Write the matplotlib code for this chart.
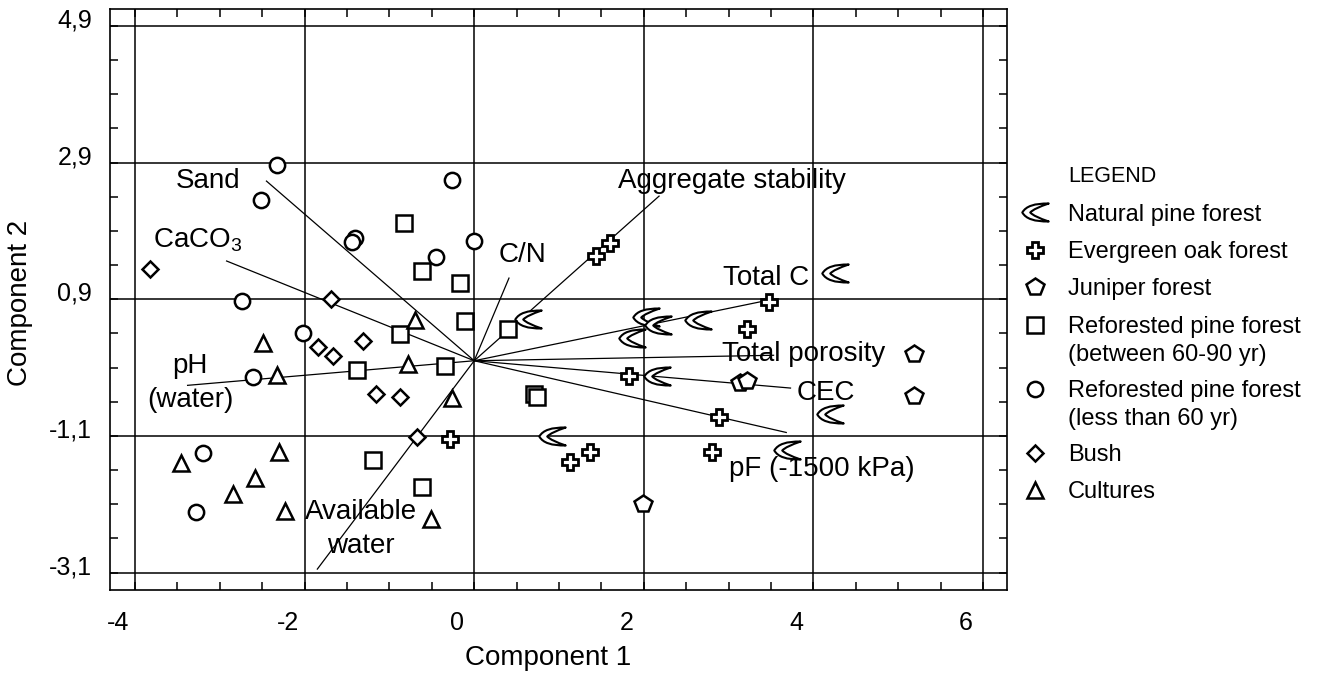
import numpy as np
import matplotlib
matplotlib.use('Agg')
import matplotlib.pyplot as plt
from matplotlib.path import Path
from matplotlib.transforms import ScaledTranslation

plt.rcParams['font.family'] = ['Liberation Sans', 'DejaVu Sans']
plt.rcParams['mathtext.fontset'] = 'custom'
plt.rcParams['mathtext.rm'] = 'Liberation Sans'
plt.rcParams['mathtext.it'] = 'Liberation Sans'
plt.rcParams['mathtext.default'] = 'rm'

# ---------------- data ----------------
natural_pine_x = [0.64, 2.02, 2.17, 1.86, 2.64, 4.26, 2.15, 4.20, 0.92, 3.69]
natural_pine_y = [0.61, 0.64, 0.52, 0.34, 0.59, 1.28, -0.23, -0.78, -1.10, -1.31]

oak_x = [1.60, 1.44, 3.48, 3.22, 1.83, 2.89, 1.13, 1.36, 2.81, -0.28]
oak_y = [1.72, 1.53, 0.86, 0.46, -0.23, -0.82, -1.48, -1.34, -1.34, -1.14]

juniper_x = [5.19, 5.19, 3.14, 3.22, 1.99]
juniper_y = [0.10, -0.52, -0.33, -0.29, -2.10]

refor_old_x = [-0.83, -0.62, -0.17, -0.11, -0.88, 0.40, -0.34, -1.38, 0.70, 0.74, -1.19, -0.62]
refor_old_y = [2.01, 1.31, 1.14, 0.58, 0.39, 0.46, -0.07, -0.14, -0.48, -0.53, -1.46, -1.85]

refor_young_x = [-2.32, -2.51, -1.41, -1.44, -0.26, 0.00, -0.45, -2.74, -2.02, -2.61, -3.20, -3.28]
refor_young_y = [2.86, 2.35, 1.79, 1.74, 2.64, 1.76, 1.52, 0.87, 0.40, -0.24, -1.35, -2.22]

bush_x = [-3.82, -1.69, -1.84, -1.66, -1.31, -1.16, -0.87, -0.67]
bush_y = [1.35, 0.90, 0.20, 0.07, 0.29, -0.48, -0.53, -1.12]

cultures_x = [-2.49, -0.70, -0.78, -2.33, -0.26, -3.46, -2.30, -2.58, -2.85, -2.23, -0.51]
cultures_y = [0.26, 0.59, -0.05, -0.21, -0.54, -1.50, -1.34, -1.72, -1.95, -2.20, -2.32]

categories = ['Natural pine forest', 'Evergreen oak forest', 'Juniper forest',
              'Reforested pine forest\n(between 60-90 yr)',
              'Reforested pine forest\n(less than 60 yr)', 'Bush', 'Cultures']

variables = ['Sand', 'CaCO$_3$', 'pH\n(water)', 'Available\nwater', 'C/N',
             'Aggregate stability', 'Total C', 'Total porosity', 'CEC', 'pF (-1500 kPa)']
loading_x = [-2.45, -2.92, -3.38, -1.85, 0.41, 2.18, 3.52, 3.53, 3.73, 3.68]
loading_y = [2.63, 1.46, -0.36, -3.05, 1.21, 2.41, 0.90, 0.08, -0.40, -1.05]
label_x = [-3.14, -3.79, -3.35, -1.34, 0.57, 3.04, 3.44, 3.88, 4.15, 4.10]
label_y = [2.63, 1.76, -0.33, -2.46, 1.55, 2.63, 1.21, 0.10, -0.47, -1.58]
label_ha = ['center', 'left', 'center', 'center', 'center', 'center', 'center',
            'center', 'center', 'center']

x_ticks = [-4, -2, 0, 2, 4, 6]
x_ticklabels = ['-4', '-2', '0', '2', '4', '6']
y_ticks = [4.9, 2.9, 0.9, -1.1, -3.1]
y_ticklabels = ['4,9', '2,9', '0,9', '-1,1', '-3,1']

# ---------------- markers ----------------
crescent = Path(
    [(0.5, 0.34), (-0.3, 0.36), (-0.5, 0.0), (-0.3, -0.36), (0.5, -0.34),
     (-0.05, -0.16), (-0.2, 0.0), (-0.05, 0.16), (0.5, 0.34), (0.5, 0.34)],
    [Path.MOVETO, Path.CURVE3, Path.CURVE3, Path.CURVE3, Path.CURVE3,
     Path.CURVE3, Path.CURVE3, Path.CURVE3, Path.CURVE3, Path.CLOSEPOLY])

series = [
    (natural_pine_x, natural_pine_y, crescent, 19, 1.5),
    (oak_x, oak_y, 'P', 12, 2.0),
    (juniper_x, juniper_y, 'p', 13, 1.8),
    (refor_old_x, refor_old_y, 's', 11, 1.8),
    (refor_young_x, refor_young_y, 'o', 11, 1.8),
    (bush_x, bush_y, 'D', 8, 1.8),
    (cultures_x, cultures_y, '^', 11.5, 1.8),
]

# ---------------- figure ----------------
W, H = 1317, 677
fig = plt.figure(figsize=(W / 100, H / 100), dpi=100)
ax = fig.add_axes([110 / W, 1 - 590 / H, (1007 - 110) / W, (590 - 9) / H])
ax.set_xlim(-4.295, 6.283)
ax.set_ylim(-3.356, 5.149)

for s in ax.spines.values():
    s.set_linewidth(1.2)

for xv in x_ticks:
    ax.axvline(xv, color='black', lw=1.1, zorder=1)
for yv in y_ticks:
    ax.axhline(yv, color='black', lw=1.1, zorder=1)

for lx, ly in zip(loading_x, loading_y):
    ax.plot([0, lx], [0, ly], color='black', lw=0.9, zorder=2)

for name, tx, ty, ha in zip(variables, label_x, label_y, label_ha):
    ax.text(tx, ty, name, fontsize=20, ha=ha, va='center', zorder=4,
            linespacing=1.38)

for xs, ys, m, ms, mew in series:
    ax.plot(xs, ys, linestyle='none', marker=m, markersize=ms,
            markerfacecolor='white', markeredgecolor='black',
            markeredgewidth=mew, zorder=3)

ax.set_xticks(x_ticks)
ax.set_xticklabels(x_ticklabels)
ax.set_xticks(np.arange(-4, 6.01, 0.5), minor=True)
ax.set_yticks(y_ticks)
ax.set_yticklabels(y_ticklabels)
ax.set_yticks(np.arange(-3.1, 4.91, 0.5), minor=True)
ax.tick_params(which='both', direction='in', top=True, right=True,
               length=6, width=1.1, color='black')
ax.tick_params(axis='x', which='major', labelsize=18, pad=15)
ax.tick_params(axis='y', which='major', labelsize=18, pad=13)

offx = ScaledTranslation(-17 / 100, 0, fig.dpi_scale_trans)
for lab in ax.get_xticklabels():
    lab.set_transform(lab.get_transform() + offx)
offy = ScaledTranslation(0, 8 / 100, fig.dpi_scale_trans)
for lab in ax.get_yticklabels():
    lab.set_transform(lab.get_transform() + offy)

fig.text(548 / W, 1 - 658 / H, 'Component 1', fontsize=20, ha='center', va='center')
fig.text(20 / W, 1 - 303 / H, 'Component 2', fontsize=20, ha='center',
         va='center', rotation=90)

# ---------------- legend ----------------
lax = fig.add_axes([0, 0, 1, 1])
lax.set_xlim(0, W)
lax.set_ylim(H, 0)
lax.axis('off')
lax.patch.set_visible(False)

lax.text(1068, 176, 'LEGEND', fontsize=15.5, ha='left', va='center')
row_y = 212
for name, (xs, ys, m, ms, mew) in zip(categories, series):
    lax.plot([1035], [row_y], linestyle='none', marker=m, markersize=ms,
             markerfacecolor='white', markeredgecolor='black', markeredgewidth=mew)
    lines = name.split('\n')
    for i, line in enumerate(lines):
        lax.text(1068, row_y + 8.5 + 27.5 * i, line, fontsize=17, ha='left',
                 va='baseline')
    row_y += 37.5 + 26.5 * (len(lines) - 1)

fig.savefig('out.png', dpi=100)
